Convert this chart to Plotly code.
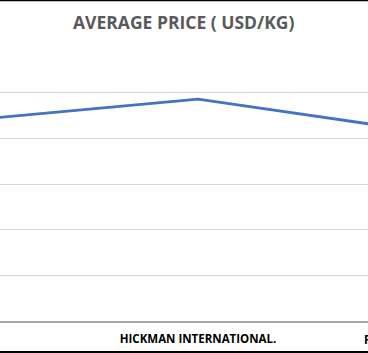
import plotly.graph_objects as go

# ---- data ----
categories = ["PACIFIC SEAFOODS LTD.", "HICKMAN INTERNATIONAL.", "FISHERIES INTERNATIONAL PTE LTD."]
avg_price = [4.32, 4.86, 4.01]
title_text = "AVERAGE PRICE ( USD/KG)"
y_ticks = [0, 1, 2, 3, 4, 5, 6]

W, H = 368, 353
M_T, M_B = 47, 32
plot_h = H - M_T - M_B

x_range = [0.2639, 1.6320]

fig = go.Figure()
fig.add_trace(go.Scatter(
    x=categories, y=avg_price, mode="lines",
    line=dict(color="#4472C4", width=2.75),
    hoverinfo="skip",
))

# labels for categories that fall outside the visible axis range
annotations = []
for i, cat in enumerate(categories):
    if x_range[0] <= i <= x_range[1]:
        continue
    frac = (i - x_range[0]) / (x_range[1] - x_range[0])
    annotations.append(dict(
        x=frac, xref="paper", y=-18 / plot_h, yref="paper",
        text=cat, showarrow=False, xanchor="center", yanchor="middle",
        font=dict(family="Open Sans", size=11.5, color="#000000", weight="bold"),
    ))

annotations.append(dict(
    x=0.5, xref="paper", y=1 + 25.5 / plot_h, yref="paper",
    text=title_text, showarrow=False, xanchor="center", yanchor="middle",
    font=dict(family="Open Sans", size=17.5, color="#595959", weight="bold"),
))

shapes = [
    dict(type="line", xref="paper", yref="paper", x0=0, x1=1,
         y0=1 + (M_T - 0.5) / plot_h, y1=1 + (M_T - 0.5) / plot_h,
         line=dict(color="#000000", width=1.5)),
    dict(type="line", xref="paper", yref="paper", x0=0, x1=1,
         y0=-(M_B - 0.5) / plot_h, y1=-(M_B - 0.5) / plot_h,
         line=dict(color="#000000", width=3)),
]

fig.update_layout(
    width=W, height=H,
    margin=dict(l=0, r=0, t=M_T, b=M_B, pad=0),
    paper_bgcolor="#ffffff", plot_bgcolor="#ffffff",
    showlegend=False,
    annotations=annotations,
    shapes=shapes,
    xaxis=dict(
        type="category", range=x_range, showgrid=False, zeroline=False,
        showline=True, linecolor="#a6a6a6", linewidth=1.5,
        ticks="", tickfont=dict(family="Open Sans", size=11.5, color="#000000", weight="bold"),
        ticklabelstandoff=6,
    ),
    yaxis=dict(
        range=[y_ticks[0], y_ticks[-1] + 0.005], tickvals=y_ticks, showticklabels=False,
        showgrid=True, gridcolor="#d9d9d9", gridwidth=1, zeroline=False,
        showline=False, ticks="",
    ),
)

fig.write_html("out.html")
